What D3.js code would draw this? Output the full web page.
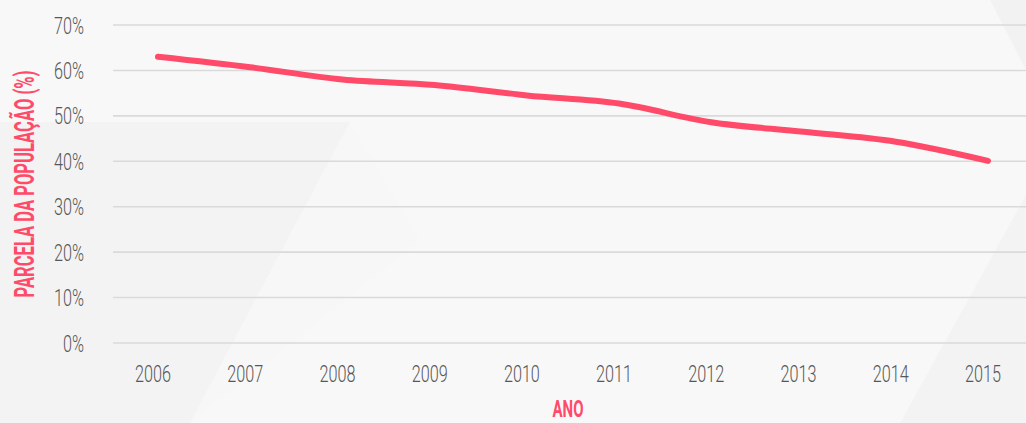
<!DOCTYPE html>
<html>
<head>
<meta charset="utf-8">
<script src="https://cdn.jsdelivr.net/npm/d3@7"></script>
<style>
  html, body { margin: 0; padding: 0; background: #f8f8f8; }
  svg { display: block; }
  text { font-family: Roboto, "Noto Sans", sans-serif; }
</style>
</head>
<body>
<svg id="chart" width="1026" height="423"></svg>
<script>
// Share of the population by year (%)
const years = ["2006", "2007", "2008", "2009", "2010", "2011", "2012", "2013", "2014", "2015"];
const share = [63.0, 60.7, 58.0, 56.8, 54.5, 52.7, 48.6, 46.5, 44.3, 40.1];
const yTicks = [0, 10, 20, 30, 40, 50, 60, 70];
const yTitle = "PARCELA DA POPULAÇÃO (%)";
const xTitle = "ANO";

const W = 1026, H = 423;
const svg = d3.select("#chart");

const pink = "#ff4b69";
const tickColor = "#575757";

// soft background panels
const bg = svg.append("g");
bg.append("rect").attr("width", W).attr("height", H).attr("fill", "#f8f8f8");
bg.append("polygon").attr("points", "0,122 350,122 190,423 0,423").attr("fill", "#f3f3f3");
bg.append("polygon").attr("points", "1026,195 1026,423 900,423").attr("fill", "#f3f3f3");
bg.append("polygon").attr("points", "350,122 420,240 190,423").attr("fill", "#f6f6f6").attr("opacity", 0.6);
bg.append("polygon").attr("points", "990,0 1026,0 1026,70").attr("fill", "#f2f2f2");

const x = d3.scalePoint().domain(years).range([158, 988]);
const y = d3.scaleLinear().domain([0, 70]).range([343, 25]);

// gridlines
svg.append("g")
  .selectAll("line")
  .data(yTicks)
  .join("line")
  .attr("x1", 113).attr("x2", W)
  .attr("y1", d => y(d)).attr("y2", d => y(d))
  .attr("stroke", "#dadada")
  .attr("stroke-width", 1.6);

// condensed label helper: squeeze text horizontally around its anchor
function condense(sel, factor) {
  sel.each(function () {
    const t = d3.select(this);
    const ax = +t.attr("x"), ay = +t.attr("y");
    t.attr("transform", `translate(${ax},${ay}) scale(${factor},1) translate(${-ax},${-ay})`);
  });
}

// y tick labels
const yLab = svg.append("g")
  .selectAll("text")
  .data(yTicks)
  .join("text")
  .attr("x", 84)
  .attr("y", d => y(d))
  .attr("dy", "0.36em")
  .attr("text-anchor", "end")
  .attr("font-size", 24)
  .attr("font-weight", 300)
  .attr("fill", tickColor)
  .text(d => d + "%");

// x tick labels
const xLab = svg.append("g")
  .selectAll("text")
  .data(years)
  .join("text")
  .attr("x", d => x(d) - 5)
  .attr("y", 382)
  .attr("text-anchor", "middle")
  .attr("font-size", 24)
  .attr("font-weight", 300)
  .attr("fill", tickColor)
  .text(d => d);

const probe = xLab.filter((d, i) => i === 0).node().getComputedTextLength();
const tickFactor = 36 / probe;
condense(yLab, tickFactor);
condense(xLab, tickFactor);

// axis titles
const yT = svg.append("text")
  .attr("x", 0).attr("y", 0)
  .attr("text-anchor", "middle")
  .attr("font-size", 27)
  .attr("font-weight", 700)
  .attr("fill", pink)
  .text(yTitle);
const yLen = yT.node().getComputedTextLength();
yT.attr("transform", `translate(34,184) rotate(-90) scale(${227 / yLen},1)`);

const xT = svg.append("text")
  .attr("x", 0).attr("y", 0)
  .attr("text-anchor", "middle")
  .attr("font-size", 23)
  .attr("font-weight", 700)
  .attr("fill", pink)
  .text(xTitle);
const xLen = xT.node().getComputedTextLength();
xT.attr("transform", `translate(568,417) scale(${31 / xLen},1)`);

// series line
const line = d3.line()
  .x((d, i) => x(years[i]))
  .y(d => y(d))
  .curve(d3.curveMonotoneX);

svg.append("path")
  .datum(share)
  .attr("d", line)
  .attr("fill", "none")
  .attr("stroke", pink)
  .attr("stroke-width", 6)
  .attr("stroke-linecap", "round")
  .attr("stroke-linejoin", "round");
</script>
</body>
</html>
